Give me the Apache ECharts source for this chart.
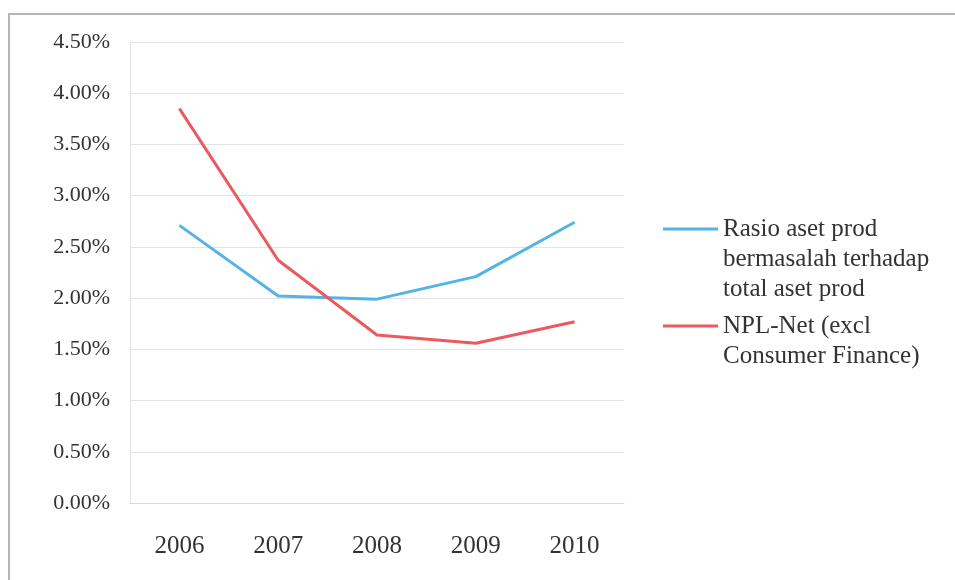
<!DOCTYPE html>
<html>
<head>
<meta charset="utf-8">
<script src="https://cdn.jsdelivr.net/npm/echarts@6/dist/echarts.min.js"></script>
<style>
html, body { margin: 0; padding: 0; background: #fff; }
#chart { width: 955px; height: 580px; }
</style>
</head>
<body>
<div id="chart"></div>
<script>
var years = ['2006', '2007', '2008', '2009', '2010'];
var rasioAset = [2.71, 2.02, 1.99, 2.21, 2.74];
var nplNet = [3.85, 2.37, 1.64, 1.56, 1.77];
var rasioName = 'Rasio aset prod\nbermasalah terhadap\ntotal aset prod';
var nplName = 'NPL-Net (excl\nConsumer Finance)';

var serif = '"Liberation Serif", "DejaVu Serif", serif';
var legendText = { fontFamily: serif, fontSize: 25, lineHeight: 30, color: '#333' };

var myChart = echarts.init(document.getElementById('chart'));

// the legend line sits next to the first line of text, so pad with empty lines on top
function topAligned(name) {
	var n = name.split('\n').length;
	return new Array(n).join('\n') + name;
}

var option = {
	backgroundColor: '#fff',
	animation: false,
	graphic: [{
		type: 'rect',
		shape: { x: 9, y: 14, width: 960, height: 600 },
		style: { fill: 'none', stroke: '#b5b5b5', lineWidth: 2 },
		silent: true
	}],
	grid: { left: 130, right: 331, top: 42, bottom: 77 },
	legend: [{
		orient: 'vertical',
		left: 658,
		top: 149,
		icon: 'rect',
		itemWidth: 55,
		itemHeight: 3,
		data: [rasioName],
		formatter: topAligned,
		textStyle: legendText
	}, {
		orient: 'vertical',
		left: 658,
		top: 276,
		icon: 'rect',
		itemWidth: 55,
		itemHeight: 3,
		data: [nplName],
		formatter: topAligned,
		textStyle: legendText
	}],
	xAxis: {
		type: 'category',
		data: years,
		boundaryGap: true,
		axisLine: { lineStyle: { color: '#d9d9d9' } },
		axisTick: { show: false },
		axisLabel: { fontFamily: serif, fontSize: 25, color: '#333', margin: 31 }
	},
	yAxis: {
		type: 'value',
		min: 0,
		max: 4.5,
		interval: 0.5,
		axisLine: { show: true, lineStyle: { color: '#e3e3e3' } },
		axisTick: { show: false },
		splitLine: { lineStyle: { color: '#e3e3e3' } },
		axisLabel: {
			fontFamily: serif, fontSize: 22, color: '#333', margin: 20,
			formatter: function (v) { return v.toFixed(2) + '%'; }
		}
	},
	series: [{
		name: rasioName,
		type: 'line',
		data: rasioAset,
		symbol: 'none',
		color: '#55b4e6',
		lineStyle: { width: 3, color: '#55b4e6' }
	}, {
		name: nplName,
		type: 'line',
		data: nplNet,
		symbol: 'none',
		color: '#ea5a5e',
		lineStyle: { width: 3, color: '#ea5a5e' }
	}]
};

myChart.setOption(option);
</script>
</body>
</html>
